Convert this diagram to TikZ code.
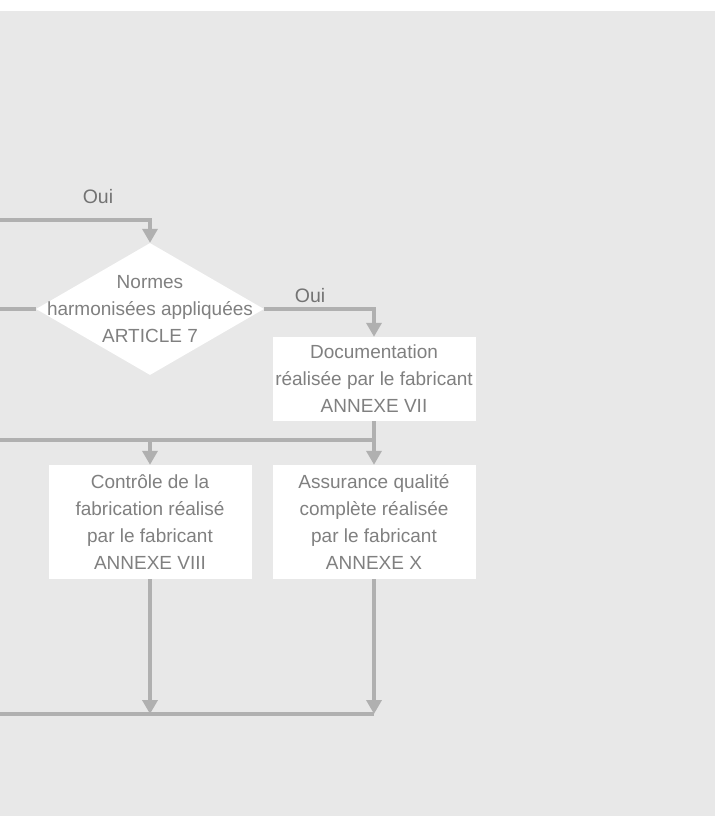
\documentclass[tikz,border=0pt]{standalone}
\usepackage{fontspec}
\setmainfont{Liberation Sans}
\usetikzlibrary{shapes.geometric,arrows.meta}
\definecolor{fondgris}{HTML}{E8E8E8}
\definecolor{traitgris}{HTML}{B0B0B0}
\definecolor{textegris}{HTML}{808080}
\definecolor{ouigris}{HTML}{737373}
\tikzset{
  boite/.style={rectangle,fill=white,text=textegris,minimum width=203pt,align=center,inner sep=0pt,font=\fontsize{19}{27}\selectfont},
  losange/.style={diamond,fill=white,minimum width=228pt,minimum height=132pt,inner sep=0pt},
  txt/.style={text=textegris,align=center,inner sep=0pt,font=\fontsize{19}{27}\selectfont},
  oui/.style={text=ouigris,inner sep=0pt,font=\fontsize{19.5}{22}\selectfont},
  trait/.style={draw=traitgris,line width=4pt},
  fleche/.style={trait,-{Triangle[width=15pt,length=14pt]}}
}
\begin{document}
\begin{tikzpicture}[x=1pt,y=-1pt]
    \useasboundingbox (0,0) rectangle (715,816);
    \fill[fondgris] (0,11) rectangle (715,816);
    \node[losange] (norm) at (150,309) {};
    \node[txt] (normlbl) at (norm.center) {Normes\\harmonisées appliquées\\ARTICLE 7};
    \node[boite,minimum height=84pt] (doc) at (374,379) {Documentation\\réalisée par le fabricant\\ANNEXE VII};
    \node[boite,minimum height=114pt] (ctrl) at (150,522) {Contrôle de la\\fabrication réalisé\\par le fabricant\\ANNEXE VIII};
    \node[boite,minimum height=114pt] (qual) at (374,522) {Assurance qualité\\complète réalisée\\par le fabricant\\ANNEXE X};
    \node[oui] (oui1) at (98,197) {Oui};
    \node[oui] (oui2) at (310,296) {Oui};
    \coordinate (haut) at (0,220);
    \coordinate (gauche) at (0,309);
    \coordinate (milieu) at (0,440);
    \coordinate (bas) at (0,714);
    \draw[fleche] (haut) -| (norm.north);
    \draw[trait] (norm.west) -- (gauche);
    \draw[fleche] (norm.east) -| (doc.north);
    \draw[trait] (doc.south) |- (milieu);
    \draw[fleche] (ctrl.north|-milieu) -- (ctrl.north);
    \draw[fleche] (qual.north|-milieu) -- (qual.north);
    \draw[trait] (bas) -- (qual.south|-bas);
    \draw[fleche] (ctrl.south) -- (ctrl.south|-bas);
    \draw[fleche] (qual.south) -- (qual.south|-bas);
\end{tikzpicture}
\end{document}
